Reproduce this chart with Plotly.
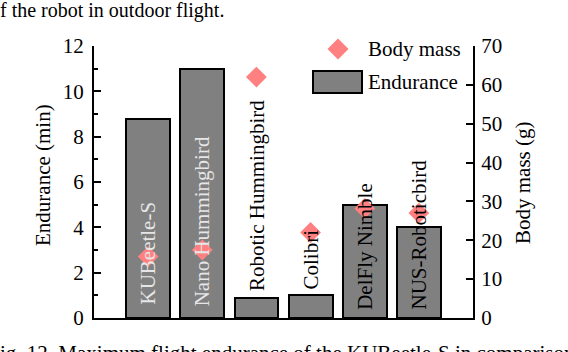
import plotly.graph_objects as go

# ---- data ----
robots = ["KUBeetle-S", "Nano Hummingbird", "Robotic Hummingbird", "Colibri", "DelFly Nimble", "NUS-Roboticbird"]
endurance_min = [8.8, 11.0, 0.87, 1.0, 5.0, 4.0]
body_mass_g = [15.8, 17.5, 62.0, 22.0, 28.2, 27.0]
left_ticks = [0, 2, 4, 6, 8, 10, 12]
right_ticks = [0, 10, 20, 30, 40, 50, 60, 70]

# ---- styles / label placement (not data) ----
label_base = [0.49, 0.44, 1.1, 1.15, 0.28, 0.28]
label_color = ["#e6e6e6", "#e6e6e6", "black", "black", "black", "black"]
FONT = "Liberation Serif"
W, H = 568, 352
L, R, T, B = 94, 95, 46, 34
PW, PH = W - L - R, H - T - B

def px(x):
    return (x - L) / PW

def py(y):
    return (H - B - y) / PH

xs = list(range(len(robots)))

fig = go.Figure()
fig.add_trace(go.Bar(
    x=xs, y=endurance_min, width=0.81, name="Endurance",
    marker=dict(color="#808080", line=dict(color="black", width=2)),
    yaxis="y", showlegend=False,
))
fig.add_trace(go.Scatter(
    x=xs, y=body_mass_g, mode="markers", name="Body mass",
    marker=dict(symbol="diamond", size=16, color="#ff8080", line=dict(width=0)),
    yaxis="y2", showlegend=False, cliponaxis=False,
))

annotations = []
for i, name in enumerate(robots):
    annotations.append(dict(
        x=xs[i], y=label_base[i], xref="x", yref="y", text=name,
        textangle=-90, showarrow=False, xanchor="center", yanchor="bottom",
        font=dict(family=FONT, size=21, color=label_color[i]),
    ))

# axis titles
annotations.append(dict(x=px(43), y=py(175), xref="paper", yref="paper", text="Endurance (min)",
                        textangle=-90, showarrow=False, xanchor="center", yanchor="middle",
                        font=dict(family=FONT, size=21, color="black")))
annotations.append(dict(x=px(523), y=py(183), xref="paper", yref="paper", text="Body mass (g)",
                        textangle=-90, showarrow=False, xanchor="center", yanchor="middle",
                        font=dict(family=FONT, size=21, color="black")))
# legend texts
annotations.append(dict(x=px(366), y=py(49), xref="paper", yref="paper", text="Body mass",
                        showarrow=False, xanchor="left", yanchor="middle",
                        font=dict(family=FONT, size=21, color="black")))
annotations.append(dict(x=px(366), y=py(82), xref="paper", yref="paper", text="Endurance",
                        showarrow=False, xanchor="left", yanchor="middle",
                        font=dict(family=FONT, size=21, color="black")))
# caption fragments
annotations.append(dict(x=px(-2), y=py(-3), xref="paper", yref="paper", text="f the robot in outdoor flight.",
                        showarrow=False, xanchor="left", yanchor="top",
                        font=dict(family=FONT, size=20, color="black")))
annotations.append(dict(x=px(-2), y=py(339), xref="paper", yref="paper",
                        text="ig. 12. Maximum flight endurance of the KUBeetle-S in comparison with other robots",
                        showarrow=False, xanchor="left", yanchor="top",
                        font=dict(family=FONT, size=21, color="black")))

shapes = [
    # legend box for Endurance
    dict(type="rect", xref="paper", yref="paper", x0=px(313), x1=px(362), y0=py(93), y1=py(71),
         fillcolor="#808080", line=dict(color="black", width=2)),
    # legend diamond for Body mass
    dict(type="path", xref="paper", yref="paper",
         path=f"M {px(327.5)} {py(49)} L {px(338)} {py(38.5)} L {px(348.5)} {py(49)} L {px(338)} {py(59.5)} Z",
         fillcolor="#ff8080", line=dict(width=0)),
]

fig.update_layout(
    width=W, height=H,
    margin=dict(l=L, r=R, t=T, b=B, autoexpand=False),
    plot_bgcolor="white", paper_bgcolor="white",
    font=dict(family=FONT, size=21, color="black"),
    bargap=0,
    xaxis=dict(range=[-1, 6], showticklabels=False, ticks="", showgrid=False, zeroline=False,
               showline=True, linecolor="black", linewidth=2, layer="below traces"),
    yaxis=dict(range=[0, 12], tickvals=left_ticks, ticks="inside", ticklen=7, tickwidth=2,
               tickcolor="black", showline=True, linecolor="black", linewidth=2,
               showgrid=False, zeroline=False, ticklabelstandoff=4, automargin=False,
               minor=dict(dtick=1, ticks="inside", ticklen=4, tickwidth=2, tickcolor="black"),
               tickfont=dict(family=FONT, size=21)),
    yaxis2=dict(range=[0, 70], tickvals=right_ticks, overlaying="y", side="right",
                ticks="inside", ticklen=7, tickwidth=2, tickcolor="black", automargin=False,
                showline=True, linecolor="black", linewidth=2, showgrid=False, zeroline=False,
                ticklabelstandoff=2, tickfont=dict(family=FONT, size=21)),
    annotations=annotations,
    shapes=shapes,
    showlegend=False,
)

fig.write_html("out.html", config={"displayModeBar": False},
               post_script="document.body.style.margin='0';document.body.style.overflow='hidden';")
